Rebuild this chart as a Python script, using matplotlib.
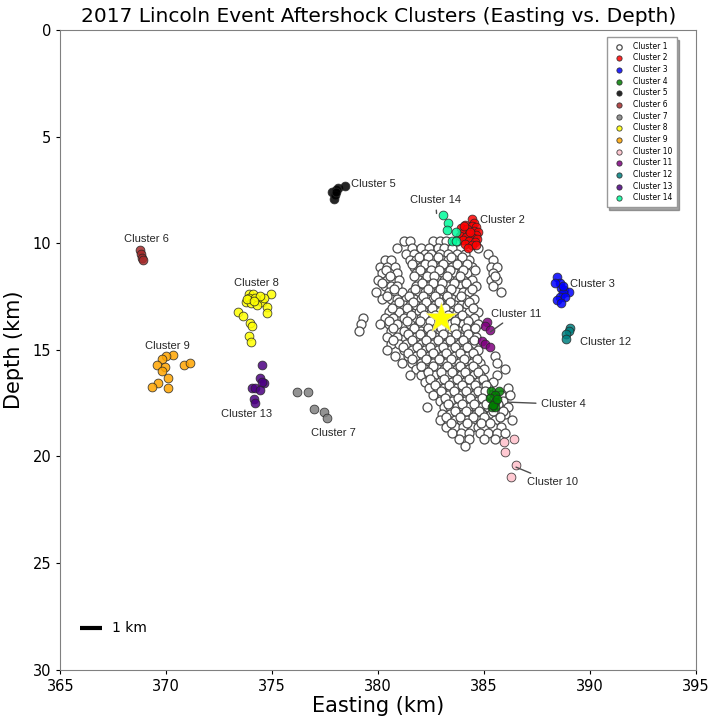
import numpy as np
import matplotlib.pyplot as plt

# Cluster 1 is the main aftershock body, stored row by row (depth -> eastings)
c1_depth = [9.9, 10.2, 10.5, 10.8, 11.1, 11.4, 11.7, 12.0, 12.3, 12.6, 12.9,
            13.2, 13.5, 13.8, 14.1, 14.4, 14.7, 15.0, 15.3, 15.6, 15.9, 16.2,
            16.5, 16.8, 17.1, 17.4, 17.7, 18.0, 18.3, 18.6, 18.9, 19.2, 19.5]
c1_east = [
    [381.2, 381.5, 382.6, 382.9, 383.2, 383.7],
    [380.9, 381.6, 382.0, 382.4, 382.8, 383.1, 383.5, 384.7],
    [381.3, 381.7, 382.2, 382.5, 382.9, 383.3, 383.7, 384.1, 385.2],
    [380.3, 380.6, 381.5, 381.8, 382.1, 382.4, 382.7, 383.0, 383.3, 383.6, 383.9, 384.3, 385.4],
    [380.1, 380.4, 380.8, 381.7, 382.0, 382.3, 382.6, 382.9, 383.2, 383.5, 383.8, 384.1, 384.4, 385.3, 385.6],
    [380.2, 380.5, 380.9, 381.8, 382.1, 382.4, 382.7, 383.0, 383.3, 383.6, 383.9, 384.2, 385.4],
    [380.0, 380.4, 380.7, 381.0, 381.9, 382.2, 382.5, 382.8, 383.1, 383.4, 383.7, 384.0, 384.4, 385.3, 385.6],
    [380.3, 380.6, 380.9, 381.8, 382.1, 382.4, 382.7, 383.0, 383.3, 383.6, 383.9, 384.2, 384.6, 385.4],
    [379.9, 380.5, 380.8, 381.1, 381.6, 381.9, 382.2, 382.5, 382.8, 383.1, 383.4, 383.7, 384.0, 384.3, 385.8],
    [380.2, 380.6, 380.9, 381.3, 381.7, 382.0, 382.3, 382.6, 382.9, 383.2, 383.5, 383.8, 384.1, 384.5],
    [380.8, 381.2, 381.5, 381.8, 382.1, 382.4, 382.7, 383.0, 383.3, 383.6, 383.9, 384.2],
    [380.5, 381.0, 381.4, 381.9, 382.2, 382.5, 382.8, 383.1, 383.4, 383.7, 384.0, 384.3, 384.7],
    [379.3, 380.3, 380.7, 381.2, 381.7, 382.0, 382.3, 382.6, 382.9, 383.2, 383.5, 383.8, 384.1, 384.5],
    [379.2, 380.1, 380.5, 380.9, 381.5, 381.9, 382.2, 382.5, 382.8, 383.1, 383.4, 383.7, 384.0, 384.3, 384.7],
    [379.1, 380.6, 381.2, 381.7, 382.0, 382.3, 382.6, 382.9, 383.2, 383.5, 383.8, 384.1, 384.4],
    [380.4, 380.9, 381.5, 381.8, 382.1, 382.4, 382.7, 383.0, 383.3, 383.6, 383.9, 384.2, 384.6],
    [380.6, 381.0, 381.3, 381.7, 382.0, 382.3, 382.6, 382.9, 383.2, 383.5, 383.8, 384.1, 384.4],
    [380.4, 381.2, 381.6, 381.9, 382.2, 382.5, 382.8, 383.1, 383.4, 383.7, 384.0, 384.3, 384.7],
    [380.8, 381.4, 381.8, 382.1, 382.4, 382.7, 383.0, 383.3, 383.6, 383.9, 384.2, 384.5, 385.5],
    [381.1, 381.6, 382.0, 382.3, 382.6, 382.9, 383.2, 383.5, 383.8, 384.1, 384.4, 384.8, 385.6],
    [381.8, 382.2, 382.5, 382.8, 383.1, 383.4, 383.7, 384.0, 384.3, 384.6, 385.0, 386.0],
    [381.5, 382.0, 382.4, 382.7, 383.0, 383.3, 383.6, 383.9, 384.2, 384.5, 384.8, 385.6],
    [382.2, 382.6, 382.9, 383.2, 383.5, 383.8, 384.1, 384.4, 384.7, 385.0, 385.4],
    [382.4, 382.8, 383.1, 383.4, 383.7, 384.0, 384.3, 384.6, 384.9, 385.2, 386.1],
    [382.6, 383.0, 383.3, 383.6, 383.9, 384.2, 384.5, 384.8, 385.3, 385.8, 386.2],
    [382.9, 383.2, 383.5, 383.8, 384.1, 384.4, 384.7, 385.0, 385.9],
    [382.3, 383.1, 383.4, 383.7, 384.0, 384.3, 384.6, 384.9, 385.2, 385.7, 386.1],
    [383.0, 383.4, 383.7, 384.0, 384.3, 384.6, 384.9, 385.3, 385.6, 386.0],
    [382.9, 383.3, 383.6, 383.9, 384.2, 384.5, 384.8, 385.1, 385.5, 386.3],
    [383.2, 383.6, 384.0, 384.4, 384.7, 385.0, 385.4, 385.8],
    [383.5, 383.9, 384.3, 384.8, 385.2, 385.6, 386.0],
    [383.8, 384.3, 385.0, 385.5],
    [384.1],
]

# events in between the rows above, filling the dense core
c1b_depth = [10.65, 10.95, 11.25, 11.55, 11.85, 12.15, 12.45, 12.75, 13.05,
             13.35, 13.65, 13.95, 14.25, 14.55, 14.85, 15.15, 15.45, 15.75,
             16.05, 16.35, 16.65, 16.95, 17.25, 17.55, 17.85, 18.15, 18.45]
c1b_east = [
    [381.9, 382.35, 382.8, 383.45, 383.95],
    [381.6, 382.2, 382.55, 383.05, 383.7, 384.2],
    [380.35, 381.95, 382.5, 382.85, 383.4, 384.0, 384.55],
    [380.55, 381.7, 382.3, 382.65, 383.25, 383.85, 385.5],
    [380.2, 382.05, 382.6, 383.0, 383.55, 384.15],
    [380.75, 381.75, 382.35, 382.9, 383.45, 384.4],
    [380.4, 381.45, 382.1, 382.7, 383.25, 383.9],
    [381.0, 381.65, 382.25, 382.85, 383.4, 384.3],
    [380.65, 381.35, 382.0, 382.55, 383.15, 383.75, 384.45],
    [381.55, 382.15, 382.7, 383.3, 383.95],
    [380.5, 381.35, 381.95, 382.45, 383.05, 383.6, 384.25],
    [380.7, 381.7, 382.35, 382.95, 383.55, 384.15, 384.55],
    [381.4, 381.95, 382.5, 383.05, 383.65, 384.25],
    [380.7, 381.6, 382.25, 382.8, 383.4, 384.0, 384.5],
    [381.15, 381.85, 382.45, 383.05, 383.6, 384.2],
    [381.4, 382.0, 382.6, 383.2, 383.85, 384.45],
    [381.6, 382.25, 382.85, 383.45, 384.05, 384.65],
    [382.0, 382.6, 383.25, 383.85, 384.45],
    [382.35, 382.95, 383.5, 384.1, 384.7],
    [382.45, 383.1, 383.7, 384.3, 384.95],
    [382.7, 383.35, 383.95, 384.55, 385.1],
    [382.95, 383.55, 384.15, 384.7, 385.05],
    [383.15, 383.75, 384.35, 384.9, 385.45],
    [383.3, 383.95, 384.5, 385.1, 385.65],
    [383.6, 384.15, 384.75, 385.4, 385.9],
    [383.2, 383.85, 384.45, 385.0, 385.75],
    [383.45, 384.2, 384.85, 385.25],
]

c2_x = [384.4, 384.5, 384.1, 384.4, 384.6, 383.9, 384.2, 384.5, 384.7, 384.0, 384.3, 384.6, 383.85,
        384.15, 384.45, 384.65, 384.0, 384.3, 384.55, 384.1, 384.4, 384.25, 384.6, 384.35, 384.05]
c2_y = [8.85, 9.05, 9.15, 9.2, 9.25, 9.3, 9.35, 9.4, 9.45, 9.5, 9.55, 9.6, 9.65,
        9.7, 9.75, 9.8, 9.85, 9.9, 9.95, 10.05, 10.1, 10.2, 10.1, 9.45, 9.2]
c3_x = [388.45, 388.55, 388.6, 388.75, 389.0, 388.7, 388.55, 388.8, 388.45, 388.6, 388.7, 388.35]
c3_y = [11.6, 11.85, 12.1, 12.2, 12.3, 12.35, 12.5, 12.5, 12.65, 12.8, 12.0, 11.85]
c4_x = [385.3, 385.7, 385.5, 385.25, 385.5, 385.35, 385.5, 385.4, 385.6]
c4_y = [16.95, 16.95, 17.1, 17.25, 17.45, 17.7, 17.7, 17.6, 17.3]
c5_x = [377.8, 378.0, 378.1, 378.45, 377.9, 377.95, 378.0]
c5_y = [7.6, 7.5, 7.4, 7.3, 7.9, 7.75, 7.6]
c6_x = [368.75, 368.8, 368.85, 368.9]
c6_y = [10.3, 10.5, 10.7, 10.8]
c7_x = [376.15, 376.7, 376.95, 377.45, 377.6]
c7_y = [16.97, 16.97, 17.75, 17.9, 18.2]
c8_x = [373.9, 374.1, 373.75, 374.3, 374.5, 374.95, 374.75, 374.75, 373.4, 373.6, 373.95,
        374.05, 373.9, 374.0, 373.9, 374.2, 374.0, 374.3, 373.8, 374.6, 374.4, 374.15]
c8_y = [12.4, 12.4, 12.75, 12.65, 12.75, 12.4, 13.0, 13.25, 13.2, 13.4, 13.75,
        13.9, 14.35, 14.65, 12.55, 12.55, 12.8, 12.9, 12.6, 12.55, 12.45, 12.7]
c9_x = [370.3, 370.0, 369.8, 369.55, 369.95, 369.8, 370.85, 371.1, 370.1, 369.6, 369.35, 370.1]
c9_y = [15.25, 15.3, 15.45, 15.7, 15.8, 16.0, 15.7, 15.6, 16.3, 16.55, 16.75, 16.8]
c10_x = [385.95, 386.4, 386.0, 386.5, 386.25]
c10_y = [19.3, 19.2, 19.8, 20.4, 20.95]
c11_x = [385.15, 385.05, 385.25, 384.9, 385.05, 385.25]
c11_y = [13.7, 13.9, 14.05, 14.6, 14.7, 14.85]
c12_x = [389.05, 389.0, 388.85, 388.85]
c12_y = [13.97, 14.1, 14.25, 14.5]
c13_x = [374.5, 374.4, 374.6, 374.5, 374.05, 374.2, 374.4, 374.15, 374.2]
c13_y = [15.7, 16.3, 16.55, 16.5, 16.8, 16.8, 16.9, 17.3, 17.5]
c14_x = [383.05, 383.3, 383.25, 383.65, 383.5, 383.65]
c14_y = [8.67, 9.05, 9.37, 9.47, 9.9, 9.9]

mainshock = (382.97, 13.5)

colors = ["white", "red", "blue", "green", "black", "brown", "gray", "yellow",
          "orange", "pink", "purple", "teal", "indigo", "mediumspringgreen"]

# label text position and, optionally, where its leader line points
labels = {
    "Cluster 2": ((384.8, 8.9), None),
    "Cluster 3": ((389.05, 11.9), None),
    "Cluster 4": ((387.7, 17.55), (386.1, 17.45)),
    "Cluster 5": ((378.7, 7.2), None),
    "Cluster 6": ((368.0, 9.8), None),
    "Cluster 7": ((376.85, 18.9), None),
    "Cluster 8": ((373.2, 11.85), None),
    "Cluster 9": ((369.0, 14.8), None),
    "Cluster 10": ((387.0, 21.2), (386.5, 20.5)),
    "Cluster 11": ((385.3, 13.3), (385.3, 14.15)),
    "Cluster 12": ((389.5, 14.65), None),
    "Cluster 13": ((372.6, 18.0), None),
    "Cluster 14": ((381.5, 7.95), (382.75, 8.6)),
}


def flatten(depths, rows):
    xs, ys = [], []
    for d, row in zip(depths, rows):
        xs += row
        ys += [d] * len(row)
    return xs, ys


def main() -> None:
    ax_, ay_ = flatten(c1_depth, c1_east)
    bx_, by_ = flatten(c1b_depth, c1b_east)
    c1_x, c1_y = ax_ + bx_, ay_ + by_

    clusters = [(c1_x, c1_y), (c2_x, c2_y), (c3_x, c3_y), (c4_x, c4_y),
                (c5_x, c5_y), (c6_x, c6_y), (c7_x, c7_y), (c8_x, c8_y),
                (c9_x, c9_y), (c10_x, c10_y), (c11_x, c11_y), (c12_x, c12_y),
                (c13_x, c13_y), (c14_x, c14_y)]

    fig, ax = plt.subplots(figsize=(7.09, 7.17), dpi=100)
    fig.subplots_adjust(left=0.085, right=0.982, top=0.958, bottom=0.066)

    for i, ((xs, ys), c) in enumerate(zip(clusters, colors)):
        if i == 0:
            ax.scatter(xs, ys, s=42, facecolor="white", edgecolor="0.3",
                       linewidths=0.9, zorder=2, label="Cluster 1")
        else:
            ax.scatter(xs, ys, s=40, facecolor=c, edgecolor="0.15", alpha=0.85,
                       linewidths=0.6, zorder=3, label=f"Cluster {i + 1}")

    ax.scatter([mainshock[0]], [mainshock[1]], marker="*", s=520,
               color="yellow", edgecolor="khaki", linewidths=0.5, zorder=5)

    for name, (txt, tip) in labels.items():
        if tip is None:
            ax.text(txt[0], txt[1], name, fontsize=8, color="0.15",
                    family="Liberation Sans", va="center", ha="left")
        else:
            ax.annotate(name, xy=tip, xytext=txt, fontsize=8, color="0.15",
                        family="Liberation Sans", va="center", ha="left",
                        arrowprops=dict(arrowstyle="-", color="0.3", lw=1,
                                        shrinkA=2, shrinkB=0))

    # 1 km scale bar
    ax.plot([365.95, 366.95], [28.05, 28.05], color="black", lw=3,
            solid_capstyle="butt")
    ax.text(367.45, 28.05, "1 km", fontsize=10, va="center", ha="left")

    ax.set_xlim(365, 395)
    ax.set_ylim(30, 0)
    ax.set_xticks(np.arange(365, 396, 5))
    ax.set_yticks(np.arange(0, 31, 5))
    ax.tick_params(labelsize=10.5, length=3)
    for sp in ax.spines.values():
        sp.set_color("0.5")
    ax.set_xlabel("Easting (km)", fontsize=15, labelpad=2)
    ax.set_ylabel("Depth (km)", fontsize=15, labelpad=6)
    ax.set_title("2017 Lincoln Event Aftershock Clusters (Easting vs. Depth)",
                 fontsize=14.5, pad=6)

    leg = ax.legend(loc="upper right", bbox_to_anchor=(0.975, 0.995),
                    fontsize=5.5, shadow=True, markerscale=0.6,
                    labelspacing=0.35, borderpad=0.6, handletextpad=0.8,
                    fancybox=False)
    leg.get_frame().set_edgecolor("0.6")

    fig.savefig("out.png")


if __name__ == "__main__":
    main()
